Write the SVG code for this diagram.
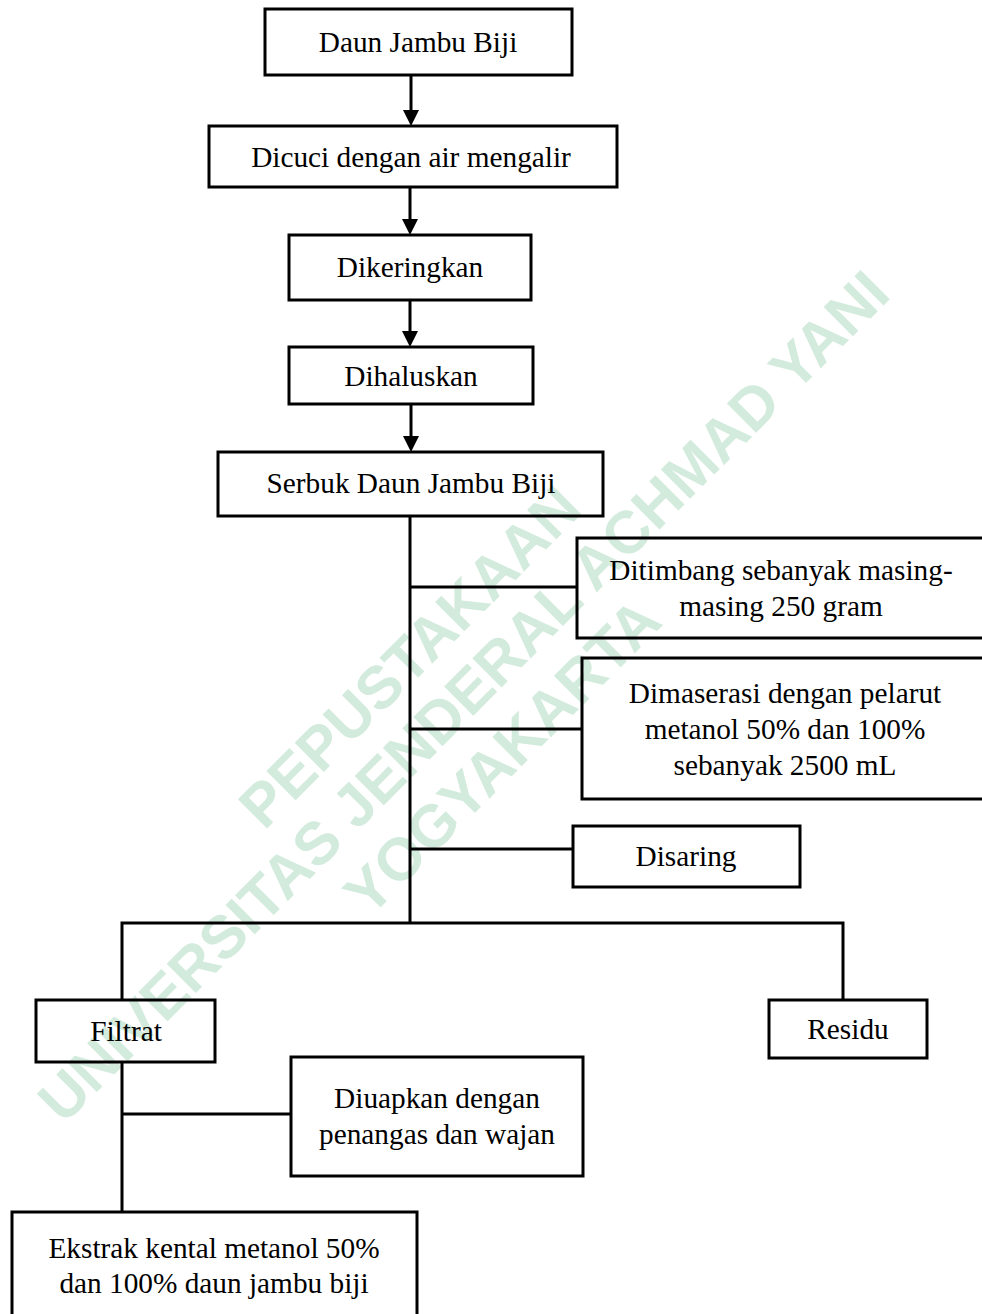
<svg xmlns="http://www.w3.org/2000/svg" width="982" height="1314" viewBox="0 0 982 1314">
<style>
  .box { fill: none; stroke: #000; stroke-width: 3; }
  .lbl { font-family: "Liberation Serif", "Times New Roman", serif; font-size: 29.3px; fill: #000; text-anchor: middle; }
  .con { stroke: #000; stroke-width: 3; fill: none; }
  .wm { font-family: "Liberation Sans", Arial, sans-serif; font-weight: bold; font-size: 60px; fill: #d3ebdd; text-anchor: middle; }
</style>
<defs>
  <marker id="arr" markerUnits="userSpaceOnUse" markerWidth="16" markerHeight="16" viewBox="0 0 16 16" refX="6" refY="8" orient="auto">
    <path d="M0,0 L16,8 L0,16 Z" fill="#000"/>
  </marker>
</defs>
<rect width="982" height="1314" fill="#fff"/>
<g id="watermark" transform="translate(461,694) rotate(-45)">
  <text class="wm" x="-10" y="-42">PEPUSTAKAAN</text>
  <text class="wm" x="0" y="24">UNIVERSITAS JENDERAL ACHMAD YANI</text>
  <text class="wm" x="-15" y="94">YOGYAKARTA</text>
</g>
<g id="connectors">
  <line class="con" x1="411" y1="75" x2="411" y2="116" marker-end="url(#arr)"/>
  <line class="con" x1="410" y1="187" x2="410" y2="225" marker-end="url(#arr)"/>
  <line class="con" x1="410" y1="300" x2="410" y2="337" marker-end="url(#arr)"/>
  <line class="con" x1="411" y1="404" x2="411" y2="442" marker-end="url(#arr)"/>
  <line class="con" x1="410" y1="516" x2="410" y2="923"/>
  <line class="con" x1="410" y1="587" x2="577" y2="587"/>
  <line class="con" x1="410" y1="729" x2="582" y2="729"/>
  <line class="con" x1="410" y1="849" x2="573" y2="849"/>
  <polyline class="con" points="122,1000 122,923 843,923 843,1000"/>
  <line class="con" x1="122" y1="1062" x2="122" y2="1212"/>
  <line class="con" x1="122" y1="1114" x2="291" y2="1114"/>
</g>
<g id="n1"><rect class="box" x="265" y="9" width="307" height="66"/><text class="lbl" x="418" y="52">Daun Jambu Biji</text></g>
<g id="n2"><rect class="box" x="209" y="126" width="408" height="61"/><text class="lbl" x="411" y="167">Dicuci dengan air mengalir</text></g>
<g id="n3"><rect class="box" x="289" y="235" width="242" height="65"/><text class="lbl" x="410" y="277">Dikeringkan</text></g>
<g id="n4"><rect class="box" x="289" y="347" width="244" height="57"/><text class="lbl" x="411" y="386">Dihaluskan</text></g>
<g id="n5"><rect class="box" x="218" y="452" width="385" height="64"/><text class="lbl" x="411" y="493">Serbuk Daun Jambu Biji</text></g>
<g id="n6"><rect class="box" x="577" y="538" width="410" height="100"/><text class="lbl" x="781" y="580">Ditimbang sebanyak masing-</text><text class="lbl" x="781" y="616">masing 250 gram</text></g>
<g id="n7"><rect class="box" x="582" y="658" width="405" height="141"/><text class="lbl" x="785" y="703">Dimaserasi dengan pelarut</text><text class="lbl" x="785" y="739">metanol 50% dan 100%</text><text class="lbl" x="785" y="775">sebanyak 2500 mL</text></g>
<g id="n8"><rect class="box" x="573" y="826" width="227" height="61"/><text class="lbl" x="686" y="866">Disaring</text></g>
<g id="n9"><rect class="box" x="36" y="1000" width="179" height="62"/><text class="lbl" x="126" y="1041">Filtrat</text></g>
<g id="n10"><rect class="box" x="769" y="1000" width="158" height="58"/><text class="lbl" x="848" y="1039">Residu</text></g>
<g id="n11"><rect class="box" x="291" y="1057" width="292" height="119"/><text class="lbl" x="437" y="1108">Diuapkan dengan</text><text class="lbl" x="437" y="1144">penangas dan wajan</text></g>
<g id="n12"><rect class="box" x="12" y="1212" width="405" height="110"/><text class="lbl" x="214" y="1258">Ekstrak kental metanol 50%</text><text class="lbl" x="214" y="1293">dan 100% daun jambu biji</text></g>
</svg>
